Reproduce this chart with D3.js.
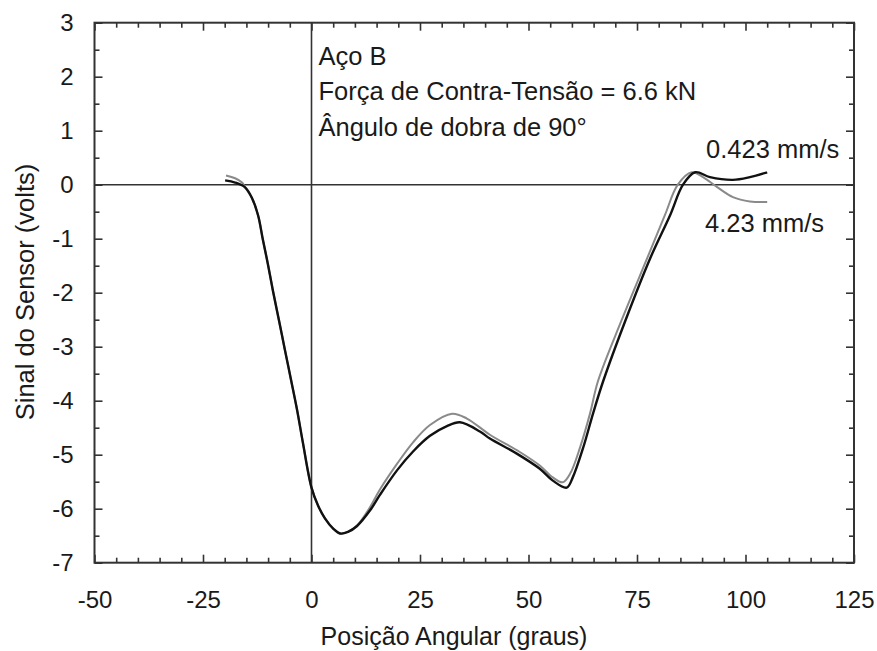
<!DOCTYPE html>
<html>
<head>
<meta charset="utf-8">
<script src="https://cdn.jsdelivr.net/npm/d3@7"></script>
<style>
  html, body { margin: 0; padding: 0; background: #fff; }
  svg { display: block; }
  text { font-family: "Liberation Sans", Arial, sans-serif; fill: #1a1a1a; }
</style>
</head>
<body>
<svg id="chart" width="877" height="651"></svg>
<script>
// Angular position (degrees) and sensor signal (volts), slow test 0.423 mm/s
const angleSlow = [-19.9, -17.6, -15.3, -13.7, -12.3, -11.2, -10.0, -8.9, -7.5, -6.1, -4.7, -3.3, -2.0, 0.0, 1.5, 3.1, 5.0, 6.6, 8.4, 10.5, 13.5, 15.8, 19.7, 23.4, 27.3, 31.2, 34.2, 38.8, 41.1, 47.3, 52.6, 55.6, 58.8, 60.2, 62.6, 64.9, 67.2, 72.4, 78.0, 82.6, 85.6, 88.4, 91.8, 97.1, 101.0, 105.0];
const signalSlow = [0.08, 0.04, -0.05, -0.25, -0.57, -1.02, -1.49, -1.96, -2.51, -3.07, -3.62, -4.18, -4.77, -5.61, -5.94, -6.18, -6.37, -6.46, -6.43, -6.32, -6.03, -5.74, -5.29, -4.94, -4.65, -4.47, -4.40, -4.57, -4.70, -4.98, -5.26, -5.48, -5.61, -5.42, -4.87, -4.23, -3.64, -2.50, -1.37, -0.57, 0.00, 0.23, 0.14, 0.09, 0.14, 0.23];

// Fast test 4.23 mm/s
const angleFast = [-19.7, -17.6, -16.0, -15.3, -13.7, -12.3, -11.2, -10.0, -8.9, -7.5, -6.1, -4.7, -3.3, -2.0, 0.0, 1.5, 3.1, 5.0, 6.6, 8.4, 10.5, 13.5, 15.8, 19.7, 23.4, 27.3, 32.4, 35.8, 41.1, 48.0, 52.6, 55.6, 57.9, 59.6, 61.9, 64.2, 66.0, 71.5, 77.3, 81.4, 84.4, 87.6, 90.2, 93.4, 97.1, 101.0, 105.0];
const signalFast = [0.17, 0.12, 0.04, -0.05, -0.25, -0.57, -1.02, -1.49, -1.96, -2.51, -3.07, -3.62, -4.18, -4.77, -5.61, -5.94, -6.18, -6.37, -6.46, -6.43, -6.31, -5.97, -5.64, -5.17, -4.77, -4.45, -4.24, -4.33, -4.63, -4.95, -5.20, -5.42, -5.51, -5.35, -4.86, -4.23, -3.64, -2.50, -1.37, -0.57, 0.00, 0.23, 0.14, -0.04, -0.23, -0.31, -0.32];

const xTicks = [-50, -25, 0, 25, 50, 75, 100, 125];
const yTicks = [-7, -6, -5, -4, -3, -2, -1, 0, 1, 2, 3];

const notes = ["Aço B", "Força de Contra-Tensão = 6.6 kN", "Ângulo de dobra de 90°"];
const seriesLabels = ["0.423 mm/s", "4.23 mm/s"];

const svg = d3.select("#chart");
const L = 94.5, R = 854, T = 22.7, B = 562.7;

const x = d3.scaleLinear().domain([-50, 125]).range([L, R]);
const y = d3.scaleLinear().domain([-7, 3]).range([B, T]);

const xMinor = d3.range(-50, 125.001, 5).filter(v => v % 25 !== 0);
const yMinor = d3.range(-7, 3.001, 0.5).filter(v => Math.abs(v % 1) > 0.01);
const plain = d => String(d);

function styleAxis(g) {
  g.select(".domain").remove();
  g.selectAll(".tick line").attr("stroke", "#333").attr("stroke-width", 1.6);
  g.selectAll(".tick text").style("font-size", "24px").attr("fill", "#1a1a1a");
}

// Major ticks with labels (bottom, left), inward-pointing
svg.append("g").attr("transform", `translate(0,${B})`)
  .call(d3.axisBottom(x).tickValues(xTicks).tickSize(-8).tickPadding(28).tickFormat(plain))
  .call(styleAxis);
svg.append("g").attr("transform", `translate(${L},0)`)
  .call(d3.axisLeft(y).tickValues(yTicks).tickSize(-8).tickPadding(21).tickFormat(plain))
  .call(styleAxis);
// Mirrored major ticks (top, right)
svg.append("g").attr("transform", `translate(0,${T})`)
  .call(d3.axisTop(x).tickValues(xTicks).tickSize(-8).tickFormat(""))
  .call(styleAxis);
svg.append("g").attr("transform", `translate(${R},0)`)
  .call(d3.axisRight(y).tickValues(yTicks).tickSize(-8).tickFormat(""))
  .call(styleAxis);
// Minor ticks on all four sides
svg.append("g").attr("transform", `translate(0,${B})`)
  .call(d3.axisBottom(x).tickValues(xMinor).tickSize(-5).tickFormat("")).call(styleAxis);
svg.append("g").attr("transform", `translate(0,${T})`)
  .call(d3.axisTop(x).tickValues(xMinor).tickSize(-5).tickFormat("")).call(styleAxis);
svg.append("g").attr("transform", `translate(${L},0)`)
  .call(d3.axisLeft(y).tickValues(yMinor).tickSize(-5).tickFormat("")).call(styleAxis);
svg.append("g").attr("transform", `translate(${R},0)`)
  .call(d3.axisRight(y).tickValues(yMinor).tickSize(-5).tickFormat("")).call(styleAxis);

// Frame
svg.append("rect")
  .attr("x", L).attr("y", T).attr("width", R - L).attr("height", B - T)
  .attr("fill", "none").attr("stroke", "#333").attr("stroke-width", 2);

// Reference lines at zero signal and zero angle
svg.append("line")
  .attr("x1", L).attr("x2", R).attr("y1", y(0)).attr("y2", y(0))
  .attr("stroke", "#333").attr("stroke-width", 1.6);
svg.append("line")
  .attr("x1", x(0)).attr("x2", x(0)).attr("y1", T).attr("y2", B)
  .attr("stroke", "#333").attr("stroke-width", 1.6);

// Curves
const line = d3.line().curve(d3.curveCatmullRom.alpha(0.5));
const slowPts = angleSlow.map((a, i) => [x(a), y(signalSlow[i])]);
const fastPts = angleFast.map((a, i) => [x(a), y(signalFast[i])]);

svg.append("path").attr("d", line(fastPts))
  .attr("fill", "none").attr("stroke", "#8a8a8a").attr("stroke-width", 2)
  .attr("stroke-linejoin", "round");
svg.append("path").attr("d", line(slowPts))
  .attr("fill", "none").attr("stroke", "#111").attr("stroke-width", 2.4)
  .attr("stroke-linejoin", "round");

// Annotations
const noteY = [65, 100, 136];
notes.forEach((t, i) => {
  svg.append("text").attr("x", x(0) + 7).attr("y", noteY[i])
    .style("font-size", "25.5px").text(t);
});
svg.append("text").attr("x", 706).attr("y", 158).style("font-size", "25.5px").text(seriesLabels[0]);
svg.append("text").attr("x", 705).attr("y", 232).style("font-size", "25.5px").text(seriesLabels[1]);

// Axis titles
svg.append("text").attr("x", 454).attr("y", 645)
  .attr("text-anchor", "middle").style("font-size", "25px")
  .text("Posição Angular (graus)");
svg.append("text")
  .attr("transform", `translate(34,292) rotate(-90)`)
  .attr("text-anchor", "middle").style("font-size", "25.5px")
  .text("Sinal do Sensor (volts)");
</script>
</body>
</html>
